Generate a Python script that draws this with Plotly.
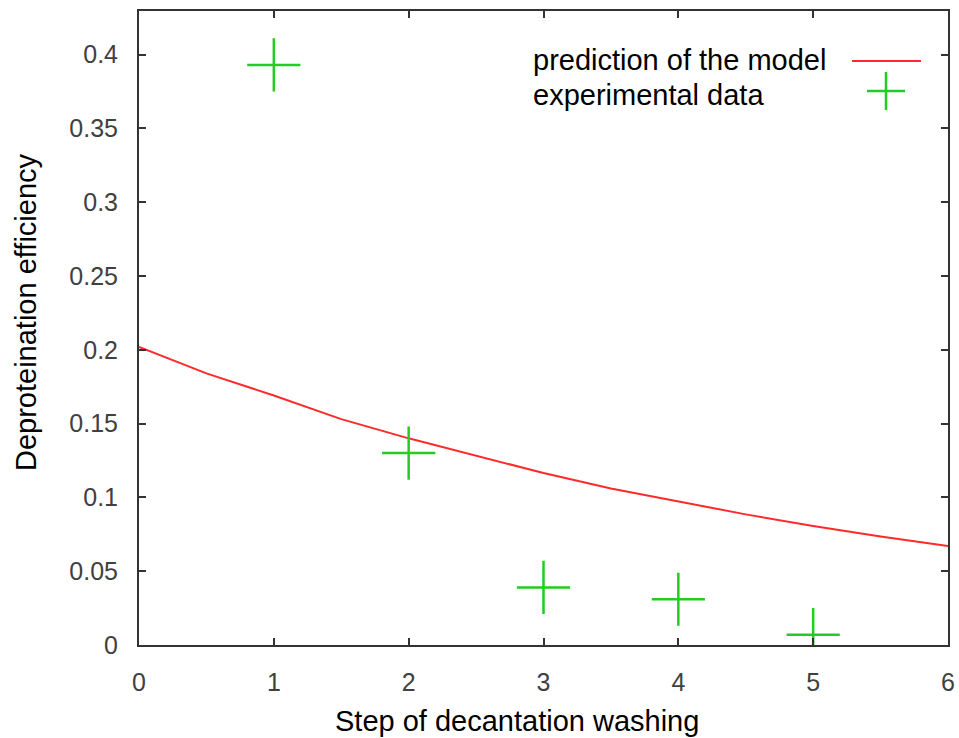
import plotly.graph_objects as go

# Data
model_x = [0, 0.5, 1, 1.5, 2, 2.5, 3, 3.5, 4, 4.5, 5, 5.5, 6]
model_y = [0.202, 0.184, 0.169, 0.153, 0.140, 0.128, 0.1165, 0.106, 0.097, 0.0885, 0.0806, 0.0735, 0.067]
exp_x = [1, 2, 3, 4, 5]
exp_y = [0.393, 0.130, 0.039, 0.031, 0.007]
x_ticks = [0, 1, 2, 3, 4, 5, 6]
y_ticks = [0, 0.05, 0.1, 0.15, 0.2, 0.25, 0.3, 0.35, 0.4]
y_ticklabels = ["0", "0.05", "0.1", "0.15", "0.2", "0.25", "0.3", "0.35", "0.4"]
x_title = "Step of decantation washing"
y_title = "Deproteination efficiency"
legend_labels = ["prediction of the model", "experimental data"]

RED = "#ff2a2a"
GREEN = "#22cc22"
FONT = "Liberation Sans, Arial, sans-serif"

W, H = 959, 738
L, R, T, B = 139, 11, 11, 93

fig = go.Figure()
fig.add_trace(go.Scatter(x=model_x, y=model_y, mode="lines",
                         line=dict(color=RED, width=2), name=legend_labels[0],
                         showlegend=False))
fig.add_trace(go.Scatter(x=exp_x, y=exp_y, mode="markers",
                         marker=dict(symbol="cross-thin", size=38,
                                     line=dict(color=GREEN, width=2.5)),
                         name=legend_labels[1], showlegend=False))

def px_to_paper_x(px):
    return (px - L) / (W - L - R)

def px_to_paper_y(py):
    return (H - B - py) / (H - T - B)

# Manual legend (text left, key right, as in gnuplot)
for lbl, py in zip(legend_labels, [60, 95]):
    fig.add_annotation(x=px_to_paper_x(531), y=px_to_paper_y(py), xref="paper", yref="paper",
                       text=lbl, showarrow=False, xanchor="left", yanchor="middle",
                       font=dict(family=FONT, size=29, color="black"))
fig.add_shape(type="line", xref="paper", yref="paper",
              x0=px_to_paper_x(852), x1=px_to_paper_x(921),
              y0=px_to_paper_y(61), y1=px_to_paper_y(61),
              line=dict(color=RED, width=2))
cx, cy = 886, 91
fig.add_shape(type="line", xref="paper", yref="paper",
              x0=px_to_paper_x(cx - 19), x1=px_to_paper_x(cx + 19),
              y0=px_to_paper_y(cy), y1=px_to_paper_y(cy),
              line=dict(color=GREEN, width=2.5))
fig.add_shape(type="line", xref="paper", yref="paper",
              x0=px_to_paper_x(cx), x1=px_to_paper_x(cx),
              y0=px_to_paper_y(cy - 19), y1=px_to_paper_y(cy + 19),
              line=dict(color=GREEN, width=2.5))

# Axis titles placed as annotations
fig.add_annotation(x=px_to_paper_x(517), y=px_to_paper_y(721), xref="paper", yref="paper",
                   text=x_title, showarrow=False, xanchor="center", yanchor="middle",
                   font=dict(family=FONT, size=29, color="black"))
fig.add_annotation(x=px_to_paper_x(26), y=px_to_paper_y(312), xref="paper", yref="paper",
                   text=y_title, showarrow=False, xanchor="center", yanchor="middle",
                   textangle=-90, font=dict(family=FONT, size=29, color="black"))

axis_common = dict(showgrid=False, zeroline=False, showline=True, mirror="ticks",
                   linecolor="#333333", linewidth=2, ticks="inside", ticklen=7,
                   tickwidth=2, tickcolor="#333333", automargin=False,
                   tickfont=dict(family=FONT, size=25, color="#404040"))

fig.update_xaxes(range=[0, 6], tickvals=x_ticks, ticktext=[str(v) for v in x_ticks],
                 ticklabelstandoff=14, **axis_common)
fig.update_yaxes(range=[0, 0.4295], tickvals=y_ticks, ticktext=y_ticklabels,
                 ticklabelstandoff=14, **axis_common)

fig.update_layout(width=W, height=H, margin=dict(l=L, r=R, t=T, b=B, pad=0),
                  plot_bgcolor="white", paper_bgcolor="white",
                  font=dict(family=FONT))

fig.write_html("out.html")
